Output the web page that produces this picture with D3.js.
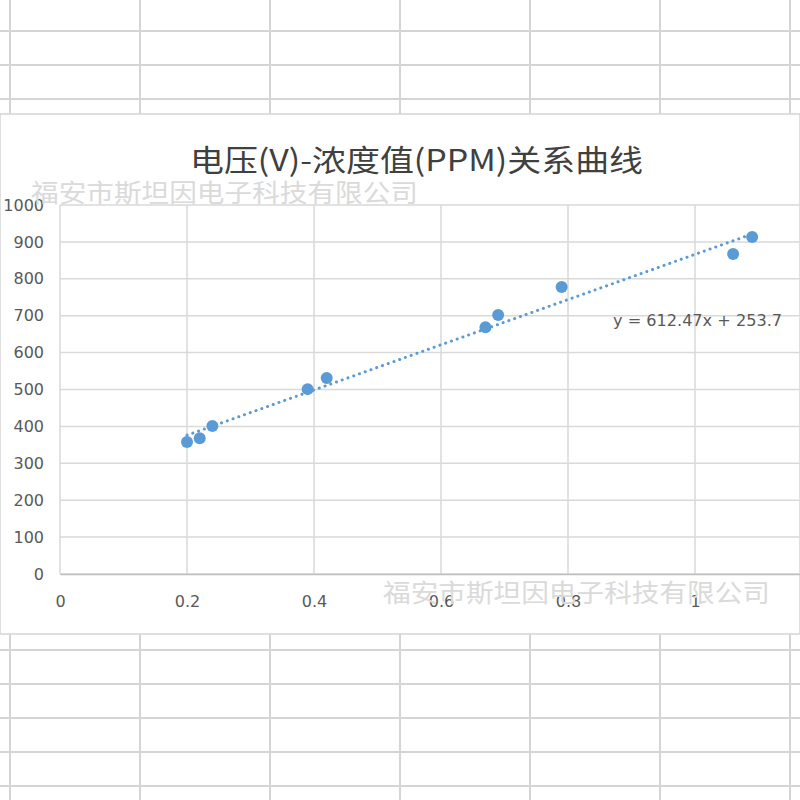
<!DOCTYPE html>
<html><head><meta charset="utf-8">
<script src="https://cdn.jsdelivr.net/npm/d3@7"></script>
<style>html,body{margin:0;padding:0;background:#fff;}svg{display:block;}</style>
</head><body>
<svg id="c" width="800" height="800"></svg>
<script>
// ---- data ----
const voltage = [0.2, 0.22, 0.24, 0.39, 0.42, 0.67, 0.69, 0.79, 1.06, 1.09];
const ppm     = [358, 368, 401, 501, 531, 669, 702, 778, 867, 913];
const xTicks  = [0, 0.2, 0.4, 0.6, 0.8, 1, 1.2];
const yTicks  = [0, 100, 200, 300, 400, 500, 600, 700, 800, 900, 1000];
const trendSlope = 612.47;
const trendIntercept = 253.7;
const title = "电压(V)-浓度值(PPM)关系曲线";
const watermark = "福安市斯坦因电子科技有限公司";
const equation = "y = 612.47x + 253.7";

const svg = d3.select("#c");

// ---- spreadsheet background ----
const sheetCols = [10, 140, 270, 400, 530, 660, 790];
const topRows = [31, 65, 99];
const botRows = [650, 684, 718, 752, 786];
const grid = svg.append("g").attr("stroke", "#d5d5d5").attr("stroke-width", 2);
sheetCols.forEach(x => {
  grid.append("line").attr("x1", x).attr("x2", x).attr("y1", 0).attr("y2", 114);
  grid.append("line").attr("x1", x).attr("x2", x).attr("y1", 634).attr("y2", 800);
});
topRows.concat(botRows).forEach(y => {
  grid.append("line").attr("x1", 0).attr("x2", 800).attr("y1", y).attr("y2", y);
});

// ---- chart area ----
svg.append("rect").attr("x", 0).attr("y", 114).attr("width", 800).attr("height", 520)
  .attr("fill", "#fff").attr("stroke", "#d5d5d5").attr("stroke-width", 1.5);

const x = d3.scaleLinear().domain([0, 1.2]).range([60, 822]);
const y = d3.scaleLinear().domain([0, 1000]).range([574, 205]);

// gridlines
const gl = svg.append("g").attr("stroke", "#d9d9d9").attr("stroke-width", 1.5);
yTicks.forEach(t => gl.append("line").attr("x1", x(0)).attr("x2", 800).attr("y1", y(t)).attr("y2", y(t)));
xTicks.forEach(t => gl.append("line").attr("x1", x(t)).attr("x2", x(t)).attr("y1", y(1000)).attr("y2", y(0)));

// axes
const xAxis = svg.append("g").attr("transform", `translate(0,${y(0)})`)
  .call(d3.axisBottom(x).tickValues(xTicks.filter(t => t <= 1)).tickSize(0).tickPadding(22)
    .tickFormat(d => d3.format("~g")(d)));
const yAxis = svg.append("g").attr("transform", `translate(${x(0)},0)`)
  .call(d3.axisLeft(y).tickValues(yTicks).tickSize(0).tickPadding(16).tickFormat(d3.format("d")));
[xAxis, yAxis].forEach(a => {
  a.select(".domain").attr("stroke", "#bfbfbf").attr("stroke-width", 1.5);
  a.selectAll("text").attr("fill", "#595959").attr("font-family", "DejaVu Sans").attr("font-size", 16);
});
yAxis.select(".domain").remove();

// watermarks
svg.append("text").attr("x", 31).attr("y", 202).text(watermark)
  .attr("font-family", "Noto Sans CJK SC").attr("font-size", 25).attr("fill", "#dadada")
  .attr("textLength", 387).attr("lengthAdjust", "spacingAndGlyphs");
svg.append("text").attr("x", 383).attr("y", 602).text(watermark)
  .attr("font-family", "Noto Sans CJK SC").attr("font-size", 25).attr("fill", "#dadada")
  .attr("textLength", 387).attr("lengthAdjust", "spacingAndGlyphs");

// title
svg.append("text").attr("x", 190).attr("y", 171).text(title)
  .attr("font-family", "Noto Sans CJK SC").attr("font-size", 30).attr("fill", "#404040")
  .attr("textLength", 453).attr("lengthAdjust", "spacingAndGlyphs");

// trendline
const x0 = d3.min(voltage), x1 = d3.max(voltage);
svg.append("line")
  .attr("x1", x(x0)).attr("y1", y(trendSlope * x0 + trendIntercept))
  .attr("x2", x(x1)).attr("y2", y(trendSlope * x1 + trendIntercept))
  .attr("stroke", "#5b9bd5").attr("stroke-width", 3).attr("stroke-linecap", "round")
  .attr("stroke-dasharray", "0.1 6");

// points
svg.append("g").selectAll("circle").data(voltage).join("circle")
  .attr("cx", d => x(d)).attr("cy", (d, i) => y(ppm[i])).attr("r", 6).attr("fill", "#5b9bd5");

// equation
svg.append("text").attr("x", 613).attr("y", 326).text(equation)
  .attr("font-family", "DejaVu Sans").attr("font-size", 16).attr("fill", "#595959")
  .attr("textLength", 169).attr("lengthAdjust", "spacingAndGlyphs");
</script>
</body></html>
